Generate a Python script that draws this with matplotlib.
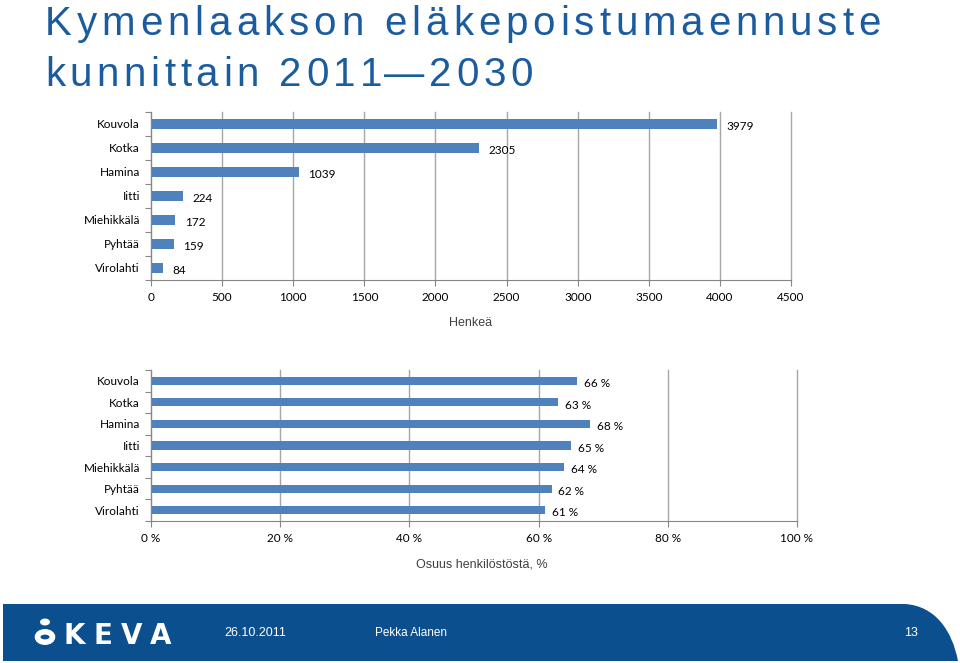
"""Kymenlaakson eläkepoistumaennuste kunnittain, two horizontal bar charts."""

import matplotlib

matplotlib.use("Agg")

import matplotlib.pyplot as plt
from matplotlib.font_manager import FontProperties
from matplotlib.patches import Circle, PathPatch
from matplotlib.path import Path

municipalities = ["Kouvola", "Kotka", "Hamina", "Iitti", "Miehikkälä", "Pyhtää", "Virolahti"]
retirees = [3979, 2305, 1039, 224, 172, 159, 84]
share_pct = [66, 63, 68, 65, 64, 62, 61]

count_ticks = [0, 500, 1000, 1500, 2000, 2500, 3000, 3500, 4000, 4500]
pct_ticks = [0, 20, 40, 60, 80, 100]
pct_tick_labels = ["0 %", "20 %", "40 %", "60 %", "80 %", "100 %"]

BAR = "#4f81bd"
GRID = "#a6a6a6"
TITLE_BLUE = "#1b5c9e"
BANNER = "#0b4f8f"
LABEL_FONT = ["Lato", "DejaVu Sans"]

plt.rcParams["font.family"] = ["Liberation Sans", "DejaVu Sans"]

W, H = 960.0, 663.0
fig = plt.figure(figsize=(9.6, 6.63), dpi=100)
renderer = fig.canvas.get_renderer()


def tracked_text(x_px, y_px, s, tracking, size, family, color, weight="normal"):
    """Place text char by char so we can widen the letter spacing."""
    prop = FontProperties(family=family, size=size, weight=weight)
    for i, ch in enumerate(s):
        if i:
            w, _, _ = renderer.get_text_width_height_descent(s[:i], prop, ismath=False)
        else:
            w = 0
        fig.text((x_px + w + i * tracking) / W, 1 - y_px / H, ch, fontproperties=prop,
                 color=color, va="center", ha="left")


tracked_text(45, 24, "Kymenlaakson eläkepoistumaennuste", 4.9, 29,
             ["Liberation Sans"], TITLE_BLUE)
tracked_text(45, 75, "kunnittain 2011\u20142030", 4.6, 29, ["Liberation Sans"], TITLE_BLUE)


def style_axes(ax, ticks, xmax):
    ax.set_xlim(0, xmax)
    ax.set_ylim(len(municipalities) - 0.5, -0.5)
    ax.set_xticks(ticks)
    ax.grid(axis="x", color=GRID, linewidth=1)
    for gl in ax.get_xgridlines():
        gl.set_clip_on(False)
    ax.set_axisbelow(True)
    for side in ("top", "right"):
        ax.spines[side].set_visible(False)
    for side in ("left", "bottom"):
        ax.spines[side].set_color("#868686")
    # category names sit between the tick marks, Excel style
    ax.set_yticks([i + 0.5 for i in range(-1, len(municipalities))])
    ax.set_yticklabels([])
    ax.set_yticks(range(len(municipalities)), minor=True)
    ax.set_yticklabels(municipalities, minor=True, fontsize=8.5, family=LABEL_FONT)
    ax.tick_params(axis="y", which="major", length=4, color="#868686")
    ax.tick_params(axis="y", which="minor", length=0, pad=8)
    ax.tick_params(axis="x", length=4, color="#868686", labelsize=8.5, pad=5)
    for lbl in ax.get_xticklabels():
        lbl.set_family(LABEL_FONT)


# top: number of retirees
ax1 = fig.add_axes([0.1573, 0.5777, 0.6667, 0.2534])
ax1.barh(range(len(municipalities)), retirees, height=0.4, color=BAR)
style_axes(ax1, count_ticks, 4500)
for i, v in enumerate(retirees):
    ax1.annotate(str(v), (v, i), xytext=(7, -2), textcoords="offset points",
                 va="center", ha="left", fontsize=8.5, family=LABEL_FONT)
fig.text(0.49, 0.513, "Henkeä", fontsize=9, ha="center", va="center", color="#404040")

# bottom: share of personnel
ax2 = fig.add_axes([0.1573, 0.2142, 0.6729, 0.2277])
ax2.barh(range(len(municipalities)), share_pct, height=0.38, color=BAR)
style_axes(ax2, pct_ticks, 100)
ax2.set_xticklabels(pct_tick_labels, family=LABEL_FONT)
for i, v in enumerate(share_pct):
    ax2.annotate(f"{v} %", (v, i), xytext=(5, -2), textcoords="offset points",
                 va="center", ha="left", fontsize=8.5, family=LABEL_FONT)
fig.text(0.502, 0.148, "Osuus henkilöstöstä, %", fontsize=9, ha="center", va="center",
         color="#404040")

# footer banner with rounded right edge
pts = [(3, 604), (905, 604), (935, 606), (952, 630), (958, 661), (3, 661), (3, 604)]
codes = [Path.MOVETO, Path.LINETO, Path.CURVE4, Path.CURVE4, Path.CURVE4,
         Path.LINETO, Path.CLOSEPOLY]
verts = [(x / W, 1 - y / H) for x, y in pts]
fig.patches.append(PathPatch(Path(verts, codes), transform=fig.transFigure,
                             facecolor=BANNER, edgecolor="none"))

# logo: little figure + KEVA
fig.patches.append(Circle((45 / W, 1 - 622 / H), 5 / W, transform=fig.transFigure,
                          facecolor="white", edgecolor="none"))
fig.patches.append(Circle((45 / W, 1 - 637 / H), 7.5 / W, transform=fig.transFigure,
                          facecolor="none", edgecolor="white", linewidth=4))
tracked_text(64, 636, "KEVA", 8, 20, ["DejaVu Sans"], "white", weight="bold")
fig.text(224 / W, 1 - 633 / H, "26.10.2011", fontsize=9, color="white", va="center")
fig.text(375 / W, 1 - 633 / H, "Pekka Alanen", fontsize=8.5, color="white", va="center")
fig.text(904 / W, 1 - 633 / H, "13", fontsize=9, color="white", va="center")

fig.savefig("out.png", dpi=100)
